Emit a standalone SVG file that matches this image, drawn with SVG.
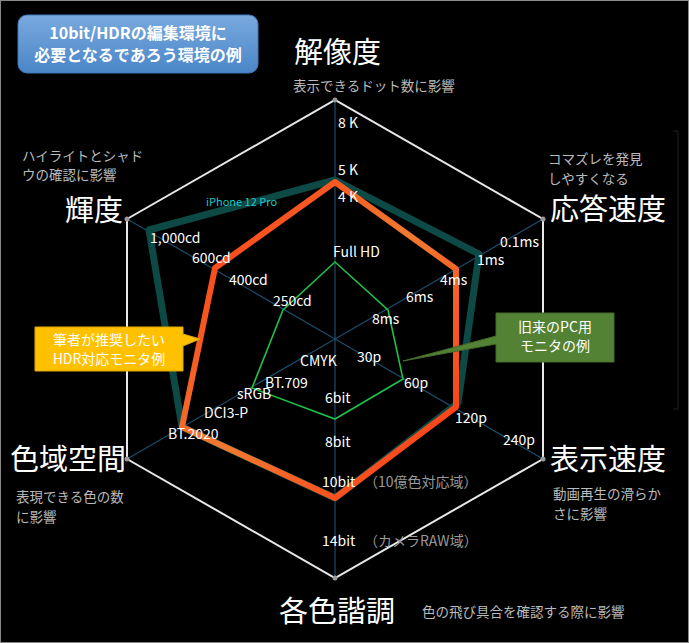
<svg xmlns="http://www.w3.org/2000/svg" width="689" height="643" viewBox="0 0 689 643">
<defs>
<linearGradient id="tb" x1="0" y1="0" x2="0" y2="1"><stop offset="0" stop-color="#79a9de"/><stop offset="1" stop-color="#4a86c8"/></linearGradient>
<linearGradient id="og" x1="0" y1="0" x2="1" y2="1"><stop offset="0" stop-color="#ff3010"/><stop offset="0.5" stop-color="#f07a30"/><stop offset="1" stop-color="#ff3010"/></linearGradient>
<style>
.t{font-family:"Noto Sans CJK JP","Liberation Sans",sans-serif;fill:#fff}
.v{font-size:14px}
.h{font-size:29px}
.s{font-size:13.5px;fill:#bbb}
.g{font-size:14px;fill:#999}
.sp{stroke:#1d4c6a;stroke-width:1.2;fill:none}
.ow{stroke:#e8e8e8;stroke-width:2;fill:none}
</style>
</defs>
<rect width="689" height="643" fill="#000"/>
<rect x="0.5" y="0.5" width="688" height="642" fill="none" stroke="#888"/>
<path d="M673 131H678V409H673" stroke="#222" fill="none"/>
<g id="axes">
<path class="sp" d="M335 339V100M335 339L543 219M335 339L543 459M335 339V578M335 339L127 459M335 339L127 219"/>
<path class="ow" d="M127 219L335 100L543 219V313M543 362V459L335 578L127 459V219"/>
<g fill="#999"><circle cx="335" cy="100" r="2.5"/><circle cx="543" cy="219" r="2.5"/><circle cx="543" cy="459" r="2.5"/><circle cx="335" cy="578" r="2.5"/><circle cx="127" cy="459" r="2.5"/><circle cx="127" cy="219" r="2.5"/></g>
</g>
<g id="connectors">
<polygon id="pc" points="335,262 388,310 403,379 335,419 252,388 283,310" fill="none" stroke="#1fbf4a" stroke-width="1.6"/>
<polygon id="iphone" points="335,180 479,254 458,403 335,498 182,427 149,230" fill="none" stroke="#0e4a45" stroke-width="7" stroke-linejoin="round"/>
<polygon id="hdr" points="335,182 456,269 456,407 335,498 182,427 215,268" fill="none" stroke="url(#og)" stroke-width="6" stroke-linejoin="round"/>
</g>
<g id="values" class="t v">
<text x="338" y="128">8 K</text><text x="338" y="175">5 K</text><text x="338" y="202">4 K</text>
<text x="333" y="257">Full HD</text>
<text x="500" y="247">0.1ms</text><text x="477" y="265">1ms</text><text x="440" y="285">4ms</text><text x="406" y="302">6ms</text><text x="372" y="324">8ms</text>
<text x="357" y="362">30p</text><text x="404" y="388">60p</text><text x="455" y="423">120p</text><text x="503" y="445">240p</text>
<text x="300" y="366">CMYK</text><text x="265" y="388">BT.709</text><text x="237" y="399">sRGB</text><text x="204" y="418">DCI3-P</text><text x="168" y="439">BT.2020</text>
<text x="325" y="403">6bit</text><text x="325" y="447">8bit</text><text x="322" y="487">10bit</text><text x="322" y="546">14bit</text>
<text x="150" y="243">1,000cd</text><text x="192" y="263">600cd</text><text x="229" y="285">400cd</text><text x="273" y="306">250cd</text>
</g>
<g class="t g"><text x="364" y="487">（10億色対応域）</text><text x="364" y="546">（カメラRAW域）</text></g>
<text class="t" x="206" y="206" font-size="11" style="fill:#1ec8c8">iPhone 12 Pro</text>
<g id="title-res"><text class="t h" x="294" y="63">解像度</text><text class="t s" x="293" y="91">表示できるドット数に影響</text></g>
<g id="title-resp"><text class="t h" x="550" y="220">応答速度</text><text class="t s" x="548" y="164">コマズレを発見</text><text class="t s" x="548" y="184">しやすくなる</text></g>
<g id="title-disp"><text class="t h" x="550" y="470">表示速度</text><text class="t s" x="553" y="499">動画再生の滑らか</text><text class="t s" x="553" y="519">さに影響</text></g>
<g id="title-grad"><text class="t h" x="279" y="622">各色諧調</text><text class="t s" x="422" y="617">色の飛び具合を確認する際に影響</text></g>
<g id="title-gamut"><text class="t h" x="10" y="470">色域空間</text><text class="t s" x="16" y="502">表現できる色の数</text><text class="t s" x="16" y="522">に影響</text></g>
<g id="title-lum"><text class="t h" x="65" y="221">輝度</text><text class="t s" x="22" y="161">ハイライトとシャド</text><text class="t s" x="22" y="180">ウの確認に影響</text></g>
<g id="title-box">
<rect x="18" y="15" width="240" height="58" rx="9" fill="url(#tb)" stroke="#3f79ba"/>
<text class="t" x="138" y="39" font-size="16" font-weight="bold" text-anchor="middle">10bit/HDRの編集環境に</text>
<text class="t" x="138" y="61" font-size="16" font-weight="bold" text-anchor="middle">必要となるであろう環境の例</text>
</g>
<g id="callout-hdr">
<path d="M35 327H183V334L200 339L183 346V371H35Z" fill="#ffc000" stroke="#e0a800"/>
<text class="t" x="109" y="345" font-size="14" text-anchor="middle">筆者が推奨したい</text>
<text class="t" x="109" y="364" font-size="14" text-anchor="middle">HDR対応モニタ例</text>
</g>
<g id="callout-pc">
<path d="M496 313H614V362H496V344L403 361L496 336Z" fill="#548235" stroke="#446a2a"/>
<text class="t" x="555" y="332" font-size="14" text-anchor="middle">旧来のPC用</text>
<text class="t" x="555" y="351" font-size="14" text-anchor="middle">モニタの例</text>
</g>
</svg>
